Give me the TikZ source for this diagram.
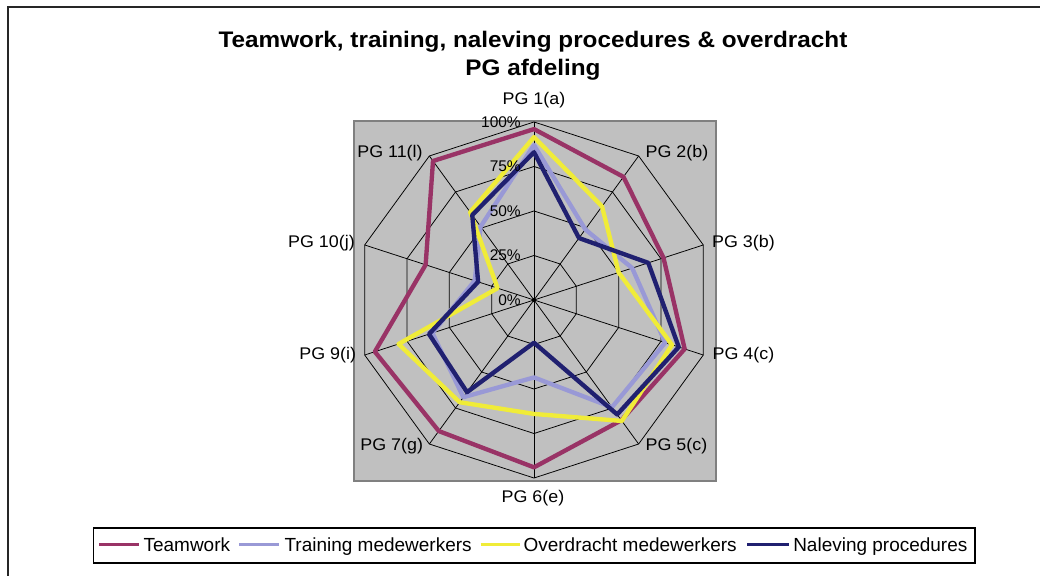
\documentclass[tikz,border=0pt]{standalone}
\usepackage{fontspec}
\setmainfont{Liberation Sans}
\newfontfamily\axisfont{Liberation Sans}[FakeStretch=1.06]
\newfontfamily\titlefont{Liberation Sans}[FakeStretch=1.08]
\definecolor{plum}{RGB}{153,51,102}
\definecolor{periwinkle}{RGB}{153,153,214}
\definecolor{chartyellow}{RGB}{240,236,56}
\definecolor{chartnavy}{RGB}{32,32,112}
\definecolor{plotgrey}{RGB}{192,192,192}
\definecolor{plotedge}{RGB}{128,128,128}
\begin{document}
\begin{tikzpicture}[x=0.025cm, y=0.025cm,
    series/.style={line width=3.1pt, line join=round},
    teamwork/.style={series, draw=plum},
    training/.style={series, draw=periwinkle},
    overdracht/.style={series, draw=chartyellow},
    naleving/.style={series, draw=chartnavy},
    gridline/.style={draw=black, line width=0.55pt},
    axislabel/.style={font=\axisfont\fontsize{12}{14}\selectfont, inner sep=0pt},
    pctlabel/.style={font=\fontsize{11}{13}\selectfont, inner sep=0pt, anchor=east},
    legendtext/.style={font=\fontsize{13.5}{16}\selectfont, inner sep=0pt, anchor=base west}]
        \useasboundingbox (-534,-276) rectangle (506,300);
        \draw[line width=0.9pt, draw=black!85] (-526,-290) |- (520,293);

        \node[font=\titlefont\fontsize{16}{19}\selectfont\bfseries, anchor=base] (title) at (-1,252) {Teamwork, training, naleving procedures \& overdracht};
        \node[font=\titlefont\fontsize{16}{19}\selectfont\bfseries, anchor=base] (subtitle) at (-1,224.7) {PG afdeling};

        \filldraw[fill=plotgrey, draw=plotedge, line width=0.9pt] (-180,179) rectangle (182,-181);

        \begin{scope}[x=0.0445cm, y=0.0445cm]
          \foreach \r in {25,50,75,100}
            \draw[gridline] (90:\r) \foreach \a in {54,18,...,-234} { -- (\a:\r) } -- cycle;
          \foreach \a in {90,54,...,-234}
            \draw[gridline] (0,0) -- (\a:100);
          \fill (0,0) circle (1.2);

          \draw[teamwork] (90:96) -- (54:85.5) -- (18:76.5) -- (-18:89) -- (-54:83.5) -- (-90:94) -- (-126:91) -- (-162:94) -- (162:64) -- (126:96.5) -- cycle;
          \draw[training] (90:87) -- (54:49) -- (18:58) -- (-18:77.5) -- (-54:74.5) -- (-90:43.5) -- (-126:67.5) -- (-162:60) -- (162:35) -- (126:51) -- cycle;
          \draw[overdracht] (90:91.5) -- (54:65) -- (18:50) -- (-18:81.5) -- (-54:84) -- (-90:64) -- (-126:71) -- (-162:80) -- (162:21.5) -- (126:61) -- cycle;
          \draw[naleving] (90:83) -- (54:43) -- (18:67.5) -- (-18:85.5) -- (-54:79.5) -- (-90:24) -- (-126:64) -- (-162:62) -- (162:33) -- (126:59) -- cycle;
        \end{scope}

        \foreach \p in {0,25,50,75,100}
          \node[pctlabel] (pct\p) at (-13,1.78*\p) {\p\%};

        \node[axislabel] (pg1) at (0,200) {PG 1(a)};
        \node[axislabel] (pg2) at (143,147) {PG 2(b)};
        \node[axislabel] (pg3) at (209.5,57) {PG 3(b)};
        \node[axislabel] (pg4) at (209.5,-55) {PG 4(c)};
        \node[axislabel] (pg5) at (142.5,-146) {PG 5(c)};
        \node[axislabel] (pg6) at (-1,-198) {PG 6(e)};
        \node[axislabel] (pg7) at (-142.3,-146) {PG 7(g)};
        \node[axislabel] (pg9) at (-206.3,-55) {PG 9(i)};
        \node[axislabel] (pg10) at (-212.5,57) {PG 10(j)};
        \node[axislabel] (pg11) at (-144,147) {PG 11(l)};

        \draw[line width=0.75pt] (-440.7,-228) rectangle (441,-263);
        \draw[teamwork, line width=2.2pt] (-434.7,-244.7) -- (-394.7,-244.7);
        \node[legendtext] (lteamwork) at (-390.7,-251.3) {Teamwork};
        \draw[training, line width=2.2pt] (-294.7,-244.7) -- (-254.7,-244.7);
        \node[legendtext] (ltraining) at (-249.7,-251.3) {Training medewerkers};
        \draw[overdracht, line width=2.2pt] (-53.3,-244.7) -- (-14,-244.7);
        \node[legendtext] (loverdracht) at (-10.7,-251.3) {Overdracht medewerkers};
        \draw[naleving, line width=2.2pt] (213,-244.7) -- (255,-244.7);
        \node[legendtext] (lnaleving) at (259,-251.3) {Naleving procedures};
      \end{tikzpicture}
\end{document}
